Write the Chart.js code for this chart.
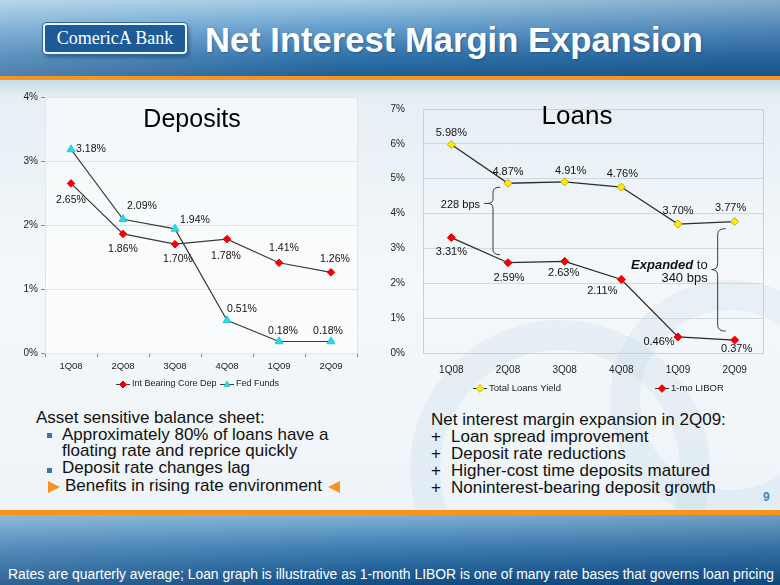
<!DOCTYPE html>
<html><head><meta charset="utf-8">
<script src="https://cdn.jsdelivr.net/npm/chart.js@4.4.0/dist/chart.umd.min.js"></script>
<style>
html,body{margin:0;padding:0;}
body{width:780px;height:585px;position:relative;overflow:hidden;font-family:"Liberation Sans",Arial,sans-serif;background:#eef4f8;}
.abs{position:absolute;white-space:nowrap;}
#header{left:0;top:0;width:780px;height:76px;background:linear-gradient(to right, rgba(255,255,255,0.22) 0%, rgba(255,255,255,0) 45%, rgba(0,30,80,0.18) 100%), linear-gradient(to bottom,#a3cbe4 0%,#5e9acb 40%,#2f72aa 75%,#1f5e96 100%);}
#obar{left:0;top:76px;width:780px;height:4px;background:#f7941d;}
#content{left:0;top:80px;width:780px;height:430px;background:linear-gradient(to bottom,#c6dae7 0px,#e6eff5 18px,#f4f8fa 200px,#eef4f8 430px);overflow:hidden;}
.ring{position:absolute;border-radius:50%;border-style:solid;border-color:rgba(170,200,222,0.16);box-sizing:border-box;}
#logo{left:43px;top:23px;width:144px;height:31px;box-sizing:border-box;background:#1c5b97;border:2px solid #eef5fb;border-radius:4px;box-shadow:0 0 0 1px #2a6aa5,2px 3px 4px rgba(0,30,70,0.45);color:#fff;font-family:"Liberation Serif","DejaVu Serif",serif;font-size:18px;line-height:27px;text-align:center;}
#title{left:205px;top:23px;font-size:34px;line-height:34px;font-weight:bold;color:#fff;text-shadow:1px 1px 2px rgba(0,30,70,0.35);}
.ctitle{font-size:25px;line-height:30px;color:#000;text-align:center;width:200px;}
.txt{font-size:17px;line-height:20px;color:#111;}
.bul{position:absolute;width:5px;height:5px;background:#3f75a3;}
.triR{position:absolute;width:0;height:0;border-top:6px solid transparent;border-bottom:6px solid transparent;border-left:12px solid #f7941d;}
.triL{position:absolute;width:0;height:0;border-top:6px solid transparent;border-bottom:6px solid transparent;border-right:12px solid #f7941d;}
#obar2{left:0;top:510px;width:780px;height:5px;background:#f7941d;}
#footer{left:0;top:515px;width:780px;height:70px;background:linear-gradient(to right, rgba(255,255,255,0.12) 0%, rgba(255,255,255,0) 50%, rgba(0,20,60,0.12) 100%),linear-gradient(to bottom,#7fb1d5 0%,#3f7fb3 45%,#0f4d85 100%);}
#ftext{left:8px;top:567px;font-size:12.3px;line-height:14px;color:#fff;}
#pnum{left:763px;top:490px;font-size:12px;line-height:14px;font-weight:bold;color:#3b88c4;}
canvas{position:absolute;}
</style></head>
<body>
<div id="header" class="abs"></div>
<div id="obar" class="abs"></div>
<div id="content" class="abs">
  <div class="ring" style="left:410px;top:240px;width:300px;height:300px;border-width:30px;"></div>
  <div class="ring" style="left:610px;top:200px;width:240px;height:240px;border-width:30px;"></div>
</div>
<div id="logo" class="abs">ComericA Bank</div>
<div id="title" class="abs">Net Interest Margin Expansion</div>

<canvas id="dep" width="380" height="315" style="left:0;top:85px;width:380px;height:315px;"></canvas>
<canvas id="loan" width="390" height="315" style="left:390px;top:85px;width:390px;height:315px;"></canvas>

<div class="abs ctitle" style="left:92px;top:103px;">Deposits</div>
<div class="abs ctitle" style="left:477px;top:99.5px;font-size:26px;">Loans</div>

<div class="abs txt" style="left:36px;top:408px;">Asset sensitive balance sheet:</div>
<div class="bul" style="left:47px;top:433px;"></div>
<div class="abs txt" style="left:62px;top:425px;">Approximately 80% of loans have a</div>
<div class="abs txt" style="left:62px;top:441px;">floating rate and reprice quickly</div>
<div class="bul" style="left:47px;top:468px;"></div>
<div class="abs txt" style="left:62px;top:458px;">Deposit rate changes lag</div>
<div class="triR" style="left:48px;top:481px;"></div>
<div class="abs txt" style="left:65px;top:476px;">Benefits in rising rate environment</div>
<div class="triL" style="left:328px;top:481px;"></div>

<div class="abs txt" style="left:431px;top:410px;">Net interest margin expansion in 2Q09:</div>
<div class="abs txt" style="left:431px;top:427px;">+</div><div class="abs txt" style="left:451px;top:427px;">Loan spread improvement</div>
<div class="abs txt" style="left:431px;top:444px;">+</div><div class="abs txt" style="left:451px;top:444px;">Deposit rate reductions</div>
<div class="abs txt" style="left:431px;top:461px;">+</div><div class="abs txt" style="left:451px;top:461px;">Higher-cost time deposits matured</div>
<div class="abs txt" style="left:431px;top:478px;">+</div><div class="abs txt" style="left:451px;top:478px;">Noninterest-bearing deposit growth</div>
<div id="pnum" class="abs">9</div>

<div id="obar2" class="abs"></div>
<div id="footer" class="abs"></div>
<div id="ftext" class="abs">Rates are quarterly average; Loan graph is illustrative as 1-month LIBOR is one of many rate bases that governs loan pricing</div>

<script>
// ---- data ----
const quarters = ['1Q08','2Q08','3Q08','4Q08','1Q09','2Q09'];
const coreDepRate = [2.65, 1.86, 1.70, 1.78, 1.41, 1.26];
const fedFundsRate = [3.18, 2.09, 1.94, 0.51, 0.18, 0.18];
const totalLoansYield = [5.98, 4.87, 4.91, 4.76, 3.70, 3.77];
const liborRate = [3.31, 2.59, 2.63, 2.11, 0.46, 0.37];
const depositsAxisMax = 4;
const loansAxisMax = 7;
const spreadStartLabel = '228 bps';
const spreadEndLabel = '340 bps';

// fit helper (style only)
function fitWidth(el, w){
  const r = el.getBoundingClientRect().width;
  const fs = parseFloat(getComputedStyle(el).fontSize);
  el.style.fontSize = (fs * w / r) + 'px';
}
fitWidth(document.getElementById('title'), 498);
fitWidth(document.getElementById('ftext'), 767);

Chart.defaults.font.family = '"Liberation Sans", Arial, sans-serif';
Chart.defaults.color = '#222';

const pct = v => v + '%';

const pointLabels = {
  id: 'pointLabels',
  afterDatasetsDraw(chart, args, o) {
    const ctx = chart.ctx;
    ctx.save();
    ctx.font = o.font; ctx.fillStyle = '#111';
    ctx.textAlign = 'center'; ctx.textBaseline = 'middle';
    chart.data.datasets.forEach((ds, di) => {
      chart.getDatasetMeta(di).data.forEach((pt, i) => {
        const off = o.offsets[di][i];
        ctx.fillText(ds.data[i].toFixed(2) + '%', pt.x + off[0], pt.y + off[1]);
      });
    });
    ctx.restore();
  }
};

const areaFrame = {
  id: 'areaFrame',
  beforeDraw(chart, args, o) {
    if (!o.fill) return;
    const a = chart.chartArea, ctx = chart.ctx;
    ctx.save(); ctx.fillStyle = o.fill;
    ctx.fillRect(a.left, a.top, a.right - a.left, a.bottom - a.top);
    ctx.restore();
  },
  beforeDatasetsDraw(chart, args, o) {
    const a = chart.chartArea, ctx = chart.ctx;
    ctx.save();
    ctx.strokeStyle = o.stroke; ctx.lineWidth = 1;
    ctx.strokeRect(Math.round(a.left) + 0.5, Math.round(a.top) + 0.5, Math.round(a.right - a.left), Math.round(a.bottom - a.top));
    ctx.restore();
  }
};

const customLegend = {
  id: 'customLegend',
  afterDraw(chart, args, o) {
    const ctx = chart.ctx;
    ctx.save();
    ctx.font = o.font; ctx.textBaseline = 'middle'; ctx.textAlign = 'left';
    o.items.forEach(it => {
      const ds = chart.data.datasets[it.ds];
      ctx.strokeStyle = ds.borderColor; ctx.lineWidth = 1;
      ctx.beginPath(); ctx.moveTo(it.x, o.y + 0.5); ctx.lineTo(it.x + o.lineLen, o.y + 0.5); ctx.stroke();
      ctx.fillStyle = ds.pointBackgroundColor; ctx.strokeStyle = ds.pointBorderColor; ctx.lineWidth = ds.pointBorderWidth;
      Chart.helpers.drawPoint(ctx, {pointStyle: ds.pointStyle, radius: o.r, rotation: 0, borderWidth: ds.pointBorderWidth}, it.x + o.lineLen / 2, o.y + 0.5);
      ctx.fillStyle = '#222';
      ctx.fillText(ds.label, it.x + o.lineLen + 2, o.y);
    });
    ctx.restore();
  }
};

function drawBrace(ctx, x, top, tip, bottom, w, tail) {
  ctx.beginPath();
  ctx.moveTo(x + w + 2, top);
  ctx.quadraticCurveTo(x, top, x, top + w);
  ctx.lineTo(x, tip - w);
  ctx.quadraticCurveTo(x, tip, x - w, tip);
  if (tail) { ctx.lineTo(x - w - tail, tip); ctx.moveTo(x - w, tip); }
  ctx.quadraticCurveTo(x, tip, x, tip + w);
  ctx.lineTo(x, bottom - w);
  ctx.quadraticCurveTo(x, bottom, x + w + 2, bottom);
  ctx.stroke();
}

const spreadBraces = {
  id: 'spreadBraces',
  afterDatasetsDraw(chart) {
    const ctx = chart.ctx, xs = chart.scales.x, ys = chart.scales.y;
    ctx.save();
    ctx.strokeStyle = '#3a3a3a'; ctx.lineWidth = 1;
    const x1 = xs.getPixelForValue(1) - 15;
    const t1 = ys.getPixelForValue(totalLoansYield[1]) + 4;
    const b1 = ys.getPixelForValue(liborRate[1]) - 8;
    const tip1 = t1 + (b1 - t1) * 0.24;
    drawBrace(ctx, x1, t1, tip1, b1, 5, 4);
    const x2 = xs.getPixelForValue(5) - 17;
    const t2 = ys.getPixelForValue(totalLoansYield[5]) + 7;
    const b2 = ys.getPixelForValue(liborRate[5]) - 9;
    const tip2 = t2 + (b2 - t2) * 0.4;
    drawBrace(ctx, x2, t2, tip2, b2, 6, 0);
    ctx.fillStyle = '#111'; ctx.textBaseline = 'middle'; ctx.textAlign = 'right';
    ctx.font = '11px "Liberation Sans", Arial, sans-serif';
    ctx.fillText(spreadStartLabel, x1 - 13, tip1 + 2);
    ctx.font = '13px "Liberation Sans", Arial, sans-serif';
    const rx = x2 - 10;
    ctx.fillText(' to', rx, tip2 - 4);
    const wTo = ctx.measureText(' to').width;
    ctx.font = 'italic bold 13px "Liberation Sans", Arial, sans-serif';
    ctx.fillText('Expanded', rx - wTo, tip2 - 4);
    ctx.font = '13px "Liberation Sans", Arial, sans-serif';
    ctx.fillText(spreadEndLabel, rx, tip2 + 9);
    ctx.restore();
  }
};

// ---- Deposits chart ----
new Chart(document.getElementById('dep'), {
  type: 'line',
  data: {
    labels: quarters,
    datasets: [
      {label: 'Int Bearing Core Dep', data: coreDepRate, borderColor: '#3a3a3a', borderWidth: 1.2,
       pointStyle: 'rectRot', pointRadius: 3.8, pointBackgroundColor: '#f20000', pointBorderColor: '#f20000', pointBorderWidth: 1, tension: 0},
      {label: 'Fed Funds', data: fedFundsRate, borderColor: '#3a3a3a', borderWidth: 1.2,
       pointStyle: 'triangle', pointRadius: 4.6, pointBackgroundColor: '#1fdfe8', pointBorderColor: '#1fc8d8', pointBorderWidth: 1, tension: 0}
    ]
  },
  options: {
    responsive: false, animation: false, devicePixelRatio: 1,
    layout: {padding: {left: 0, right: 23, top: 12, bottom: 0}},
    scales: {
      x: {
        offset: true,
        afterFit: s => { s.height = 47; },
        grid: {offset: true, drawOnChartArea: false, drawTicks: true, tickLength: 4, tickColor: '#8a8a8a'},
        border: {color: '#8a8a8a'},
        ticks: {font: {size: 9.5}, color: '#222', padding: 4, maxRotation: 0}
      },
      y: {
        min: 0, max: depositsAxisMax,
        afterFit: s => { s.width = 45; },
        grid: {color: '#dde2e7', tickLength: 4, tickColor: '#8a8a8a'},
        border: {color: '#8a8a8a'},
        ticks: {stepSize: 1, callback: pct, font: {size: 10}, color: '#222', padding: 3}
      }
    },
    plugins: {
      legend: {display: false}, tooltip: {enabled: false},
      areaFrame: {stroke: '#e2e6ea', fill: 'rgba(255,255,255,0.55)'},
      pointLabels: {font: '10.5px "Liberation Sans", Arial, sans-serif',
        offsets: [
          [[0,17],[0,15],[3,15],[-1,17],[5,-15],[4,-13]],
          [[20,0],[19,-13],[20,-9],[15,-11],[4,-10],[-3,-10]]
        ]},
      customLegend: {font: '9px "Liberation Sans", Arial, sans-serif', y: 299, lineLen: 14, r: 3.5,
        items: [{ds: 0, x: 116}, {ds: 1, x: 220}]}
    }
  },
  plugins: [areaFrame, pointLabels, customLegend]
});

// ---- Loans chart ----
new Chart(document.getElementById('loan'), {
  type: 'line',
  data: {
    labels: quarters,
    datasets: [
      {label: 'Total Loans Yield', data: totalLoansYield, borderColor: '#2a2a2a', borderWidth: 1.3,
       pointStyle: 'rectRot', pointRadius: 4, pointBackgroundColor: '#ffec00', pointBorderColor: '#c9a800', pointBorderWidth: 1, tension: 0},
      {label: '1-mo LIBOR', data: liborRate, borderColor: '#2a2a2a', borderWidth: 1.3,
       pointStyle: 'rectRot', pointRadius: 4, pointBackgroundColor: '#f20000', pointBorderColor: '#e00000', pointBorderWidth: 1, tension: 0}
    ]
  },
  options: {
    responsive: false, animation: false, devicePixelRatio: 1,
    layout: {padding: {left: 0, right: 17, top: 10, bottom: 0}},
    scales: {
      x: {
        offset: true,
        afterFit: s => { s.height = 47; },
        grid: {offset: true, drawOnChartArea: false, drawTicks: false},
        border: {color: '#c5d3de'},
        ticks: {font: {size: 10}, color: '#222', padding: 11, maxRotation: 0}
      },
      y: {
        min: 0, max: loansAxisMax,
        afterFit: s => { s.width = 33; },
        grid: {color: 'rgba(175,195,212,0.55)', drawTicks: false},
        border: {color: '#c5d3de'},
        ticks: {stepSize: 1, callback: pct, font: {size: 10}, color: '#222', padding: 18}
      }
    },
    plugins: {
      legend: {display: false}, tooltip: {enabled: false},
      areaFrame: {stroke: '#c5d3de', fill: null},
      pointLabels: {font: '11px "Liberation Sans", Arial, sans-serif',
        offsets: [
          [[0,-12],[0,-11],[6,-11],[1,-13],[0,-13],[-4,-14]],
          [[0,14],[1,15],[-1,12],[-19,12],[-19,5],[2,9]]
        ]},
      customLegend: {font: '9.5px "Liberation Sans", Arial, sans-serif', y: 303, lineLen: 14, r: 3.8,
        items: [{ds: 0, x: 83}, {ds: 1, x: 265}]}
    }
  },
  plugins: [areaFrame, pointLabels, spreadBraces, customLegend]
});
</script>
</body></html>
